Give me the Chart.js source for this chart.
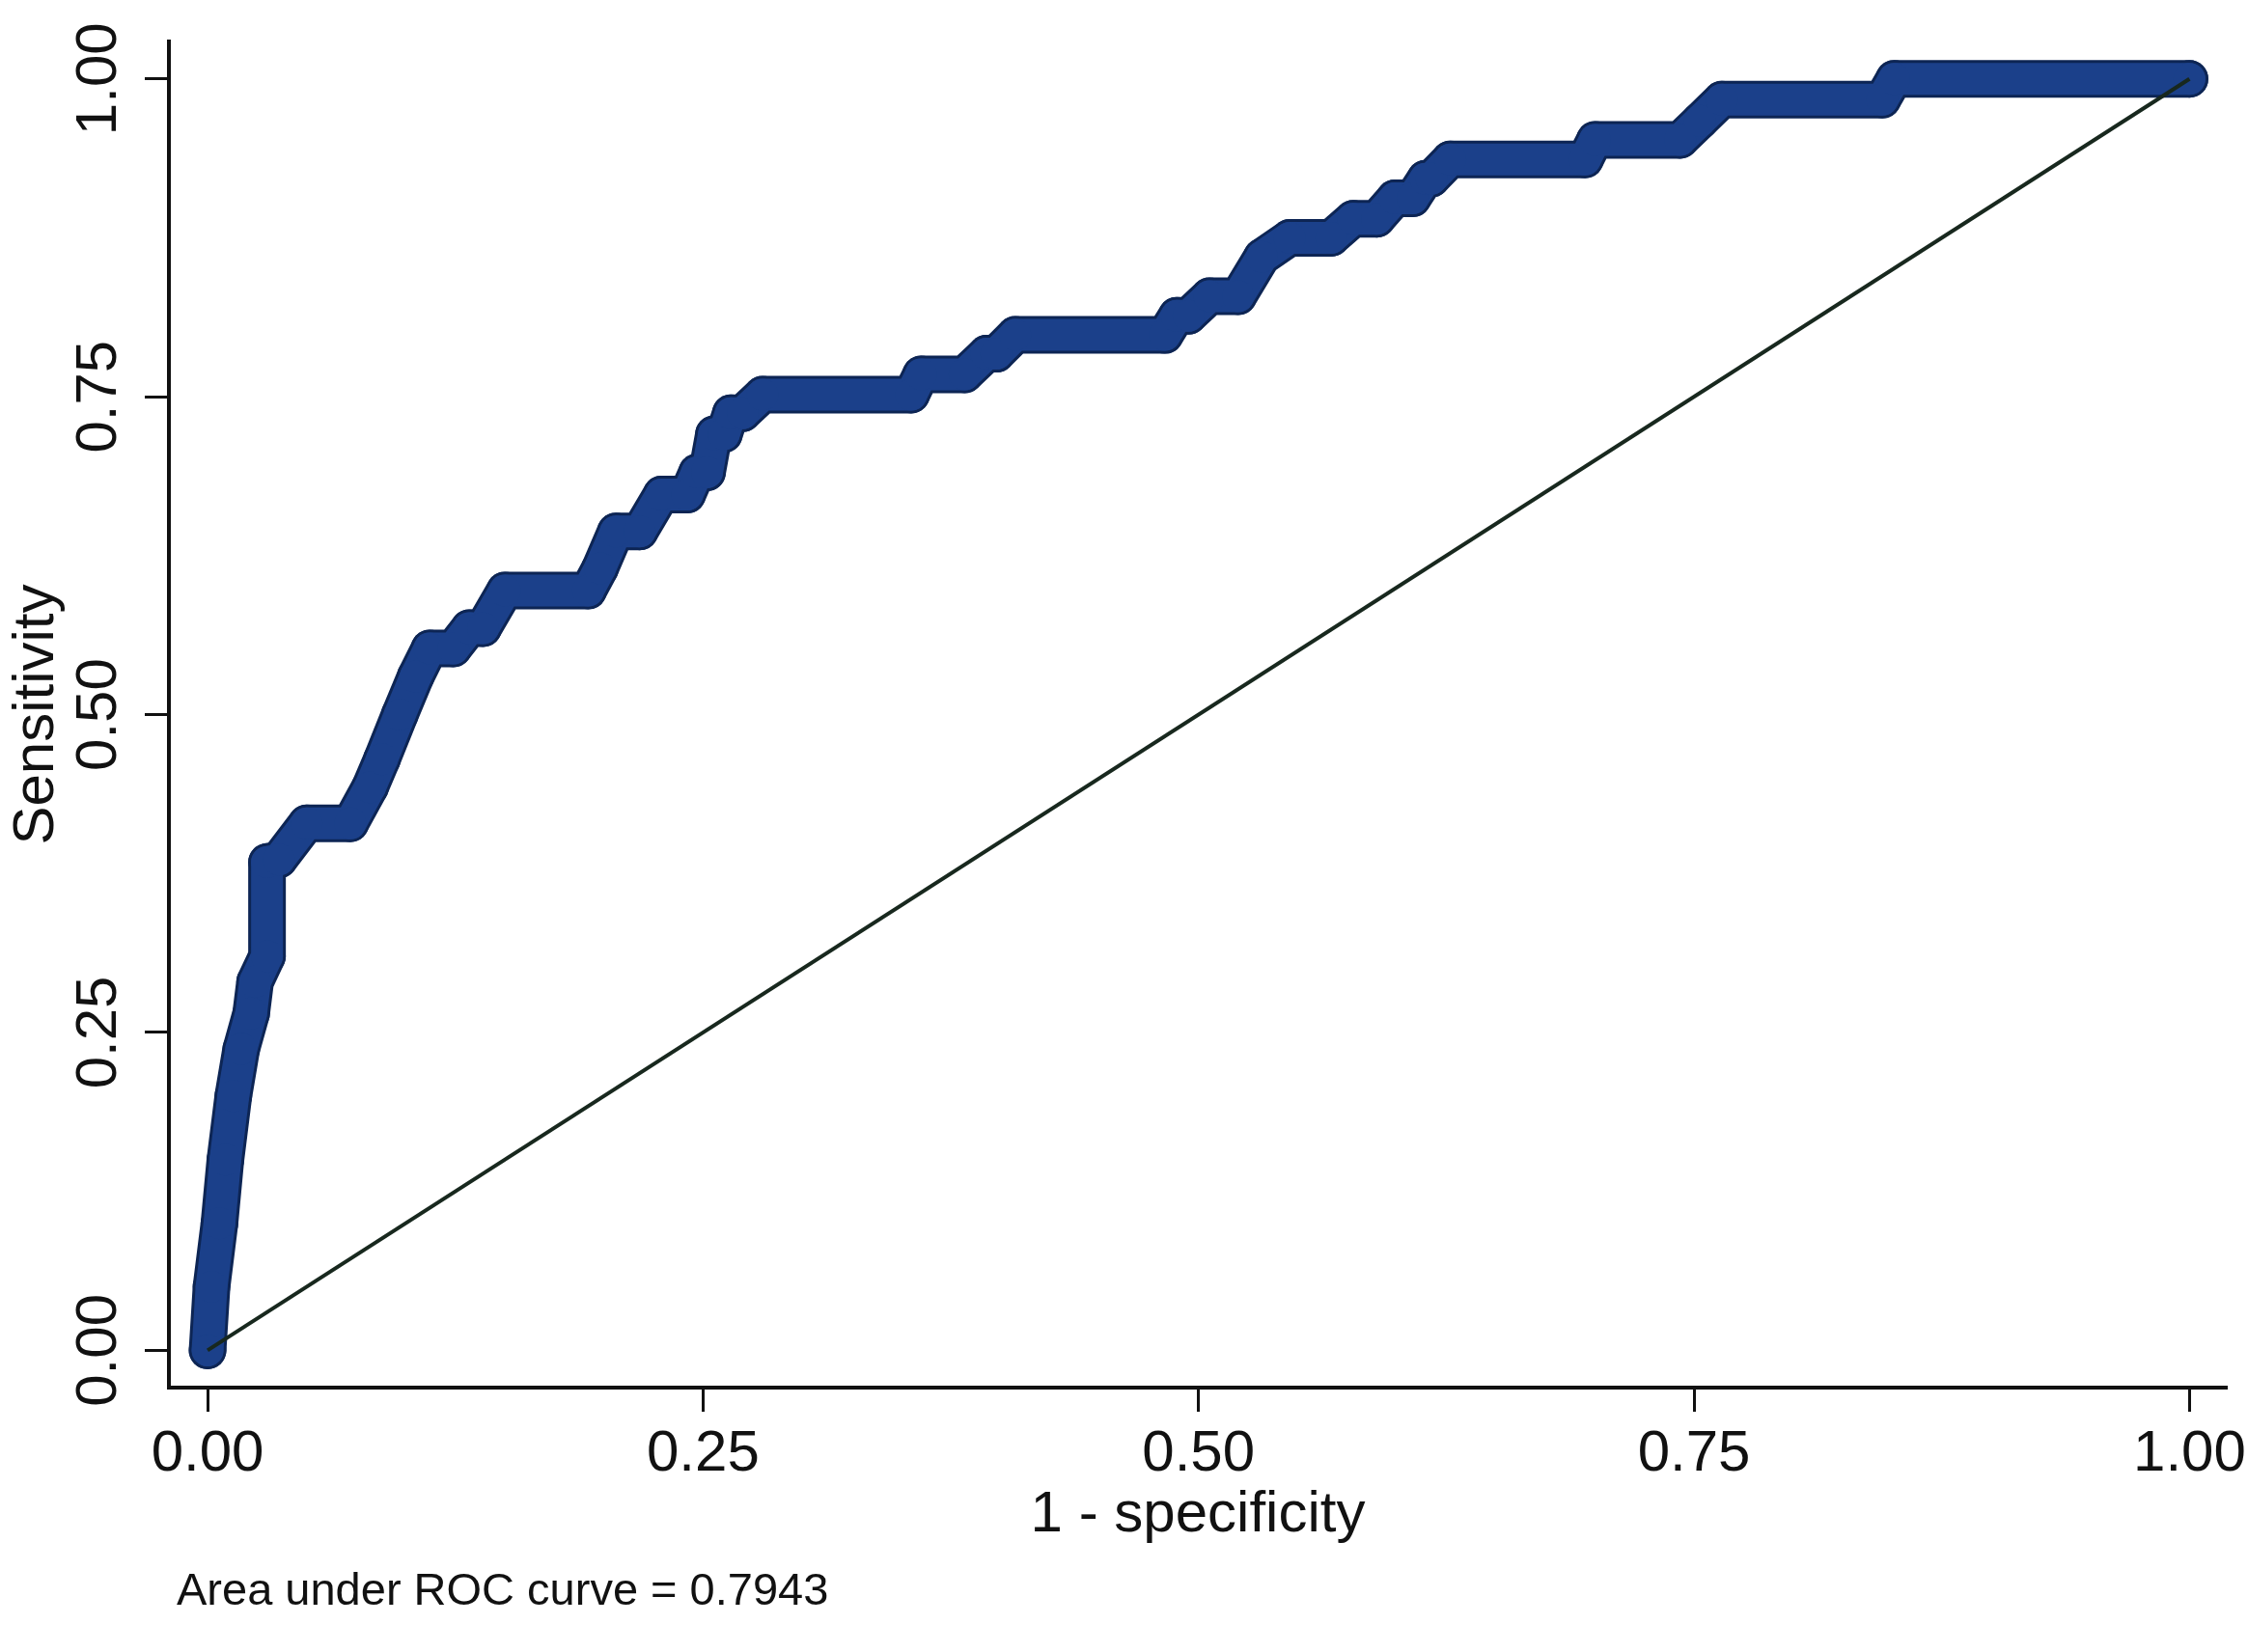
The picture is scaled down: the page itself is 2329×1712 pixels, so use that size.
<!DOCTYPE html>
<html>
<head>
<meta charset="utf-8">
<title>ROC curve</title>
<script src="https://cdn.jsdelivr.net/npm/chart.js@4.4.1/dist/chart.umd.min.js"></script>
<style>
  html, body { margin: 0; padding: 0; background: #fff; }
  #wrap { width: 2329px; height: 1712px; }
</style>
</head>
<body>
<div id="wrap"><canvas id="roc" width="2329" height="1712"></canvas></div>
<script>
// vertices of the ROC curve (1 - specificity, sensitivity)
const rocX = [0, 0.002, 0.006, 0.009, 0.013, 0.017, 0.022, 0.024, 0.030, 0.030,
  0.036, 0.050, 0.072, 0.082, 0.088, 0.097, 0.105, 0.112, 0.124, 0.132,
  0.139, 0.150, 0.192, 0.198, 0.206, 0.218, 0.229, 0.242, 0.247, 0.252,
  0.2555, 0.2605, 0.264, 0.270, 0.280, 0.355, 0.360, 0.382, 0.393, 0.398,
  0.4075, 0.483, 0.489, 0.495, 0.5055, 0.520, 0.532, 0.546, 0.567, 0.578,
  0.590, 0.599, 0.608, 0.6145, 0.6175, 0.627, 0.695, 0.700, 0.743, 0.753,
  0.764, 0.845, 0.851, 1.0];
const rocY = [0, 0.05, 0.10, 0.15, 0.20, 0.237, 0.265, 0.29, 0.31, 0.384,
  0.386, 0.4145, 0.4145, 0.443, 0.465, 0.50, 0.53, 0.552, 0.552, 0.568,
  0.568, 0.5975, 0.5975, 0.615, 0.644, 0.644, 0.673, 0.673, 0.6906, 0.6906,
  0.7205, 0.7205, 0.737, 0.737, 0.7516, 0.7516, 0.7676, 0.7676, 0.7838, 0.7838,
  0.7986, 0.7986, 0.8137, 0.8137, 0.829, 0.829, 0.860, 0.875, 0.875, 0.890,
  0.890, 0.906, 0.906, 0.9215, 0.9215, 0.9367, 0.9367, 0.952, 0.952, 0.967,
  0.9837, 0.9837, 1.0, 1.0];

// chance line
const refX = [0, 1];
const refY = [0, 1];

const xTicks = [0, 0.25, 0.5, 0.75, 1];
const yTicks = [0, 0.25, 0.5, 0.75, 1];
const xTickLabels = ['0.00', '0.25', '0.50', '0.75', '1.00'];
const yTickLabels = ['0.00', '0.25', '0.50', '0.75', '1.00'];
const aucText = 'Area under ROC curve = 0.7943';

const FONT = '"Liberation Sans", Arial, Helvetica, sans-serif';
const INK = '#111111';

const rocPts = rocX.map((x, i) => ({ x: x, y: rocY[i] }));
const refPts = refX.map((x, i) => ({ x: x, y: refY[i] }));

const footnote = {
  id: 'footnote',
  afterDraw(chart) {
    const ctx = chart.ctx;
    ctx.save();
    ctx.font = '47px ' + FONT;
    ctx.fillStyle = INK;
    ctx.textBaseline = 'alphabetic';
    ctx.textAlign = 'left';
    ctx.fillText(aucText, 183, 1663);
    ctx.restore();
  }
};

new Chart(document.getElementById('roc'), {
  type: 'line',
  data: {
    datasets: [
      {
        label: 'Reference',
        data: refPts,
        borderColor: '#18281e',
        borderWidth: 4,
        pointRadius: 0,
        fill: false,
        order: 0
      },
      {
        label: 'ROC',
        data: rocPts,
        borderColor: '#1b408a',
        borderWidth: 33,
        borderJoinStyle: 'round',
        borderCapStyle: 'round',
        pointRadius: 16.5,
        pointBackgroundColor: '#1b408a',
        pointBorderWidth: 0,
        fill: false,
        order: 1
      },
      {
        label: 'ROC edge',
        data: rocPts,
        borderColor: '#0d2554',
        borderWidth: 39,
        borderJoinStyle: 'round',
        borderCapStyle: 'round',
        pointRadius: 19.5,
        pointBackgroundColor: '#0d2554',
        pointBorderWidth: 0,
        fill: false,
        order: 2
      }
    ]
  },
  options: {
    responsive: false,
    animation: false,
    devicePixelRatio: 1,
    clip: false,
    layout: { padding: { left: 0, top: 43, right: 22, bottom: 0 } },
    elements: { line: { tension: 0 } },
    plugins: {
      legend: { display: false },
      tooltip: { enabled: false }
    },
    scales: {
      x: {
        type: 'linear',
        min: -0.0195,
        max: 1.0188,
        afterBuildTicks: s => { s.ticks = xTicks.map(v => ({ value: v })); },
        afterFit: s => { s.height = 274; s.paddingLeft = 0; s.paddingRight = 0; },
        border: { display: true, color: INK, width: 4 },
        grid: { display: true, drawOnChartArea: false, drawTicks: true, tickLength: 25, tickColor: INK, tickWidth: 3 },
        ticks: {
          autoSkip: false, minRotation: 0, maxRotation: 0, padding: 8, color: INK,
          font: { family: FONT, size: 60 },
          callback: (v, i) => xTickLabels[i]
        },
        title: {
          display: true, text: '1 - specificity', color: INK,
          font: { family: FONT, size: 60 },
          padding: { top: 0, bottom: 106 }
        }
      },
      y: {
        type: 'linear',
        min: -0.0293,
        max: 1.0294,
        afterBuildTicks: s => { s.ticks = yTicks.map(v => ({ value: v })); },
        afterFit: s => { s.width = 175; s.paddingTop = 0; s.paddingBottom = 0; },
        border: { display: true, color: INK, width: 4 },
        grid: { display: true, drawOnChartArea: false, drawTicks: true, tickLength: 25, tickColor: INK, tickWidth: 3 },
        ticks: {
          autoSkip: false, minRotation: 90, maxRotation: 90, crossAlign: 'center', padding: -12, color: INK,
          font: { family: FONT, size: 60 },
          callback: (v, i) => yTickLabels[i]
        },
        title: {
          display: true, text: 'Sensitivity', color: INK,
          font: { family: FONT, size: 60 },
          padding: { top: 2, bottom: 0 }
        }
      }
    }
  },
  plugins: [footnote]
});
</script>
</body>
</html>
